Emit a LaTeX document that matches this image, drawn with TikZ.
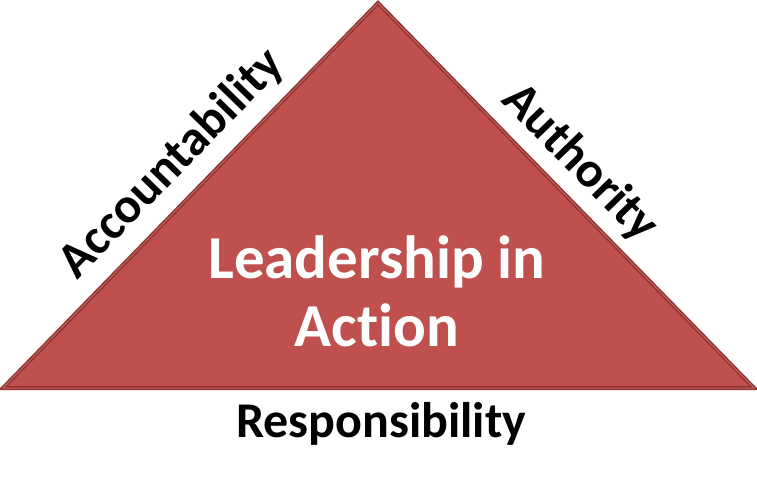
\documentclass[tikz,border=0pt]{standalone}
\usepackage{fontspec}
\setmainfont{Carlito}[Ligatures=NoCommon]
\definecolor{trifill}{HTML}{C0504D}
\definecolor{triedge}{HTML}{8E3532}
\tikzset{sidelabel/.style={font=\fontsize{50}{60}\selectfont\bfseries, inner sep=0pt}}
\begin{document}
\begin{tikzpicture}[x=1pt, y=-1pt]
\useasboundingbox (0,0) rectangle (757,479);
\coordinate (apex) at (378,3);
\coordinate (bl) at (3,388);
\coordinate (br) at (754,388);
\draw[fill=trifill, draw=triedge, line width=1.5pt, double=trifill!90!white, double distance=1pt] (apex) -- (br) -- (bl) -- cycle;
\node[sidelabel, rotate=45.75] (acc) at (172,164) {Accountability};
\node[sidelabel, rotate=-45.75] (auth) at (580,163) {Authority};
\node[sidelabel, anchor=base] (resp) at (381,437) {Responsibility};
\node[font=\fontsize{61}{68}\selectfont\bfseries, text=white, align=center] (lead) at (377,291) {Leadership in\\Action};
\end{tikzpicture}
\end{document}
